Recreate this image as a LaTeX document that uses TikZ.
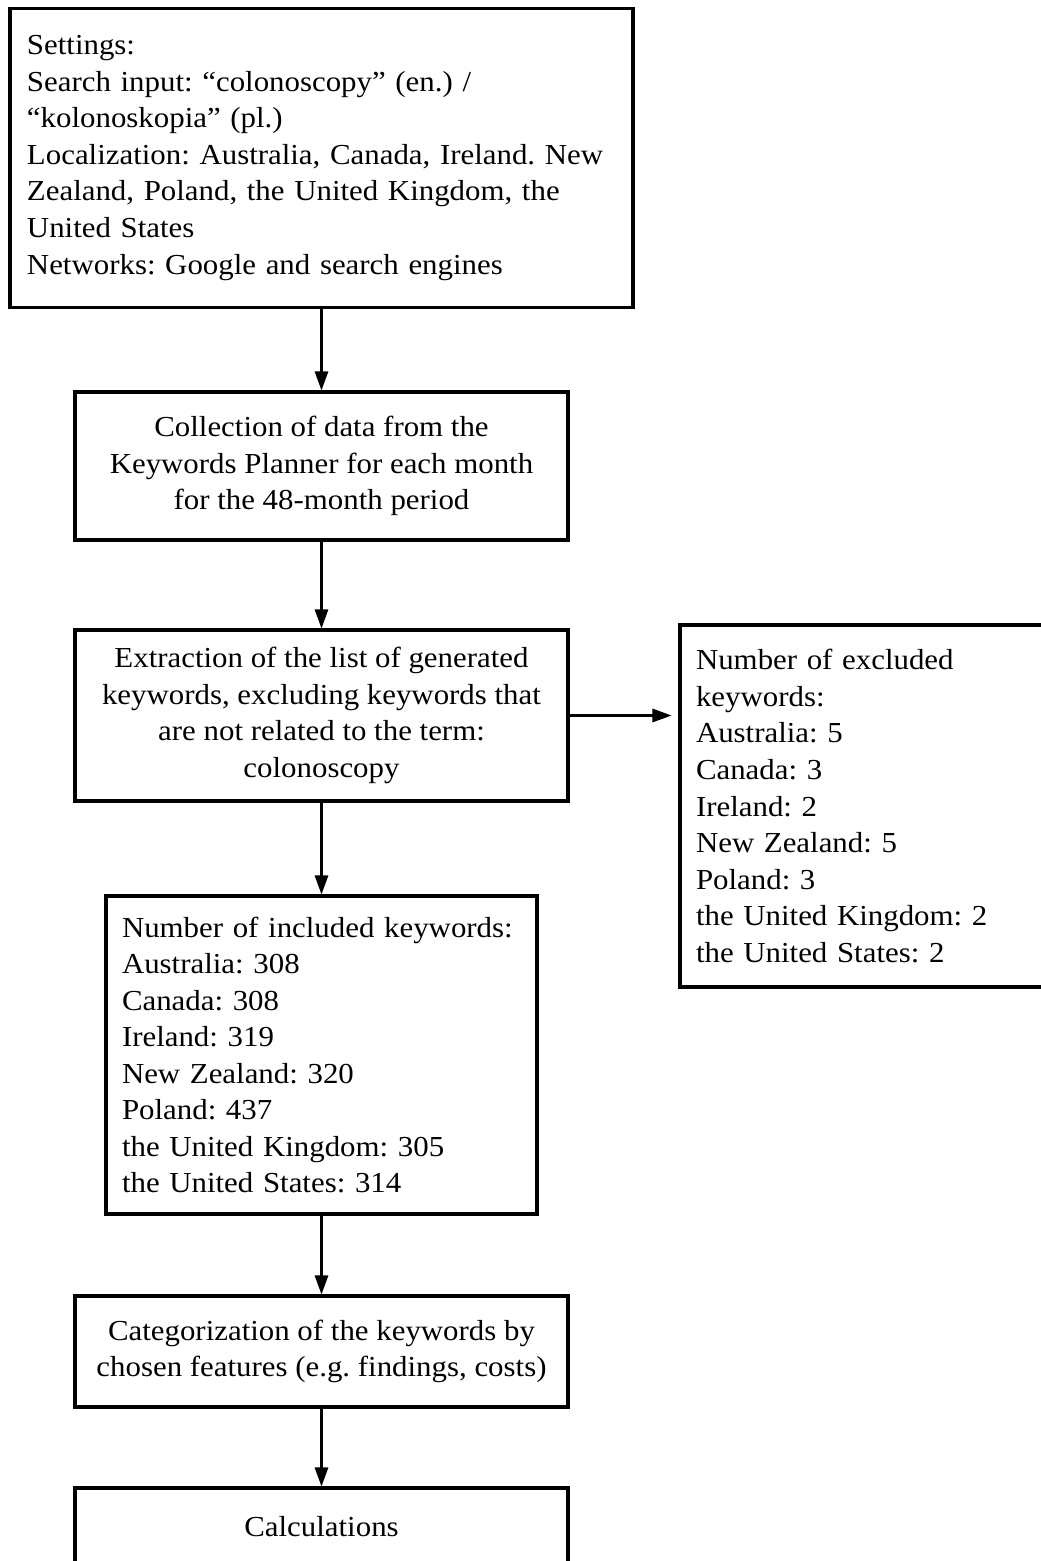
\documentclass[tikz,border=0pt]{standalone}
\usepackage{fontspec}
\setmainfont{Liberation Serif}[FakeStretch=1.065]
\usepackage{tikz}
\usetikzlibrary{positioning,arrows.meta}
\newlength{\pxu}\setlength{\pxu}{0.345pt}
\begin{document}
\begin{tikzpicture}[x=\pxu,y=-\pxu,
  font=\fontsize{10}{12.6}\selectfont\frenchspacing,
  box/.style={draw,rectangle,line width=1.05pt,inner xsep=16\pxu,inner ysep=0pt},
  flow/.style={-{Triangle[length=6.6pt,width=4.6pt]},line width=0.7pt}]
  \path[use as bounding box,clip] (0,0) rectangle (1041,1561);
  \fill[white] (0,0) rectangle (1041,1561);
  % main column of steps, boxes sized in pixels of the reference
  \node[box,minimum width=623\pxu,minimum height=299\pxu,text width=589\pxu,align=left] (settings) at (321.5,158)
    {Settings:\\Search input: “colonoscopy” (en.) /\\“kolonoskopia” (pl.)\\Localization: Australia, Canada, Ireland. New\\Zealand, Poland, the United Kingdom, the\\United States\\Networks: Google and search engines};
  \node[box,minimum width=493\pxu,minimum height=148\pxu,align=center] (collect) at (321.5,466)
    {Collection of data from the\\Keywords Planner for each month\\for the 48-month period};
  \node[box,minimum width=493\pxu,minimum height=171\pxu,align=center] (extract) at (321.5,715.5)
    {Extraction of the list of generated\\keywords, excluding keywords that\\are not related to the term:\\colonoscopy};
  \node[box,minimum width=431\pxu,minimum height=318\pxu,text width=399\pxu,align=left] (included) at (321.5,1055)
    {Number of included keywords:\\Australia: 308\\Canada: 308\\Ireland: 319\\New Zealand: 320\\Poland: 437\\the United Kingdom: 305\\the United States: 314};
  \node[box,minimum width=493\pxu,minimum height=111\pxu,align=center] (categ) at (321.5,1351.5)
    {Categorization of the keywords by\\chosen features (e.g. findings, costs)};
  \node[box,minimum width=493\pxu,minimum height=78\pxu,align=center] (calc) at (321.5,1527) {Calculations};
  \node[box,minimum width=370\pxu,minimum height=362\pxu,text width=338\pxu,align=left] (excluded) at (865,806)
    {Number of excluded\\keywords:\\Australia: 5\\Canada: 3\\Ireland: 2\\New Zealand: 5\\Poland: 3\\the United Kingdom: 2\\the United States: 2};
  \draw[flow] (settings) -- (collect);
  \draw[flow] (collect) -- (extract);
  \draw[flow] (extract) -- (included);
  \draw[flow] (included) -- (categ);
  \draw[flow] (categ) -- (calc);
  \draw[flow,shorten >=2.4pt] (extract.east) -- (extract.east -| excluded.west);
\end{tikzpicture}
\end{document}
